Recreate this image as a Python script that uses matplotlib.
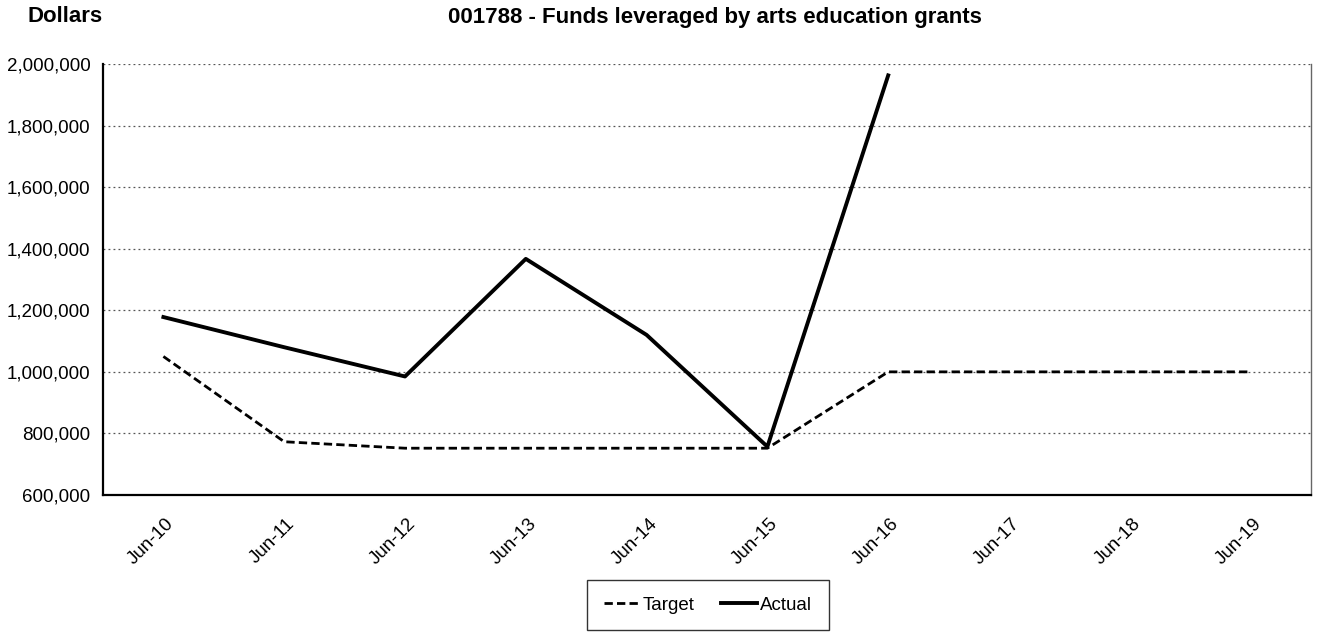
import matplotlib.pyplot as plt
from matplotlib.ticker import FuncFormatter
from matplotlib.transforms import ScaledTranslation

plt.rcParams['font.family'] = ['Liberation Sans', 'DejaVu Sans']

# data
months = ['Jun-10', 'Jun-11', 'Jun-12', 'Jun-13', 'Jun-14',
          'Jun-15', 'Jun-16', 'Jun-17', 'Jun-18', 'Jun-19']
target = [1050000, 773000, 752000, 752000, 752000,
          752000, 1000000, 1000000, 1000000, 1000000]
actual = [1178000, 1080000, 985000, 1367000, 1120000,
          757000, 1963000]

fig = plt.figure(figsize=(13.17, 6.33), dpi=100)
ax = fig.add_axes([103 / 1317, 1 - 495 / 633, 1208 / 1317, 431 / 633])

x = list(range(len(months)))
ax.plot(x, target, color='black', linestyle=(0, (3, 1.5)), linewidth=2.0, label='Target')
ax.plot(x[:len(actual)], actual, color='black', linewidth=2.8, label='Actual')

ax.set_xlim(-0.5, len(months) - 0.5)
ax.set_ylim(600000, 2000000)
ax.set_yticks(range(600000, 2000001, 200000))
ax.yaxis.set_major_formatter(FuncFormatter(lambda v, p: f'{int(v):,}'))
ax.set_xticks(x)
ax.set_xticklabels(months, rotation=45, ha='right', va='center', rotation_mode='anchor')
ax.tick_params(axis='both', length=0, labelsize=13.5)
ax.tick_params(axis='y', pad=9)
ax.tick_params(axis='x', pad=19)
shift = ScaledTranslation(8 / 100, 0, fig.dpi_scale_trans)
for lbl in ax.get_xticklabels():
    lbl.set_transform(lbl.get_transform() + shift)

ax.grid(axis='y', linestyle=(0, (1.5, 2.5)), color='#555555', linewidth=0.9)
ax.set_axisbelow(True)
for side in ['left', 'bottom']:
    ax.spines[side].set_linewidth(1.6)
ax.spines['top'].set_visible(False)
ax.spines['right'].set_color('#666666')
ax.spines['right'].set_linewidth(1.0)

fig.text(28 / 1317, 1 - 16 / 633, 'Dollars', fontsize=16, fontweight='bold', va='center')
fig.text(715 / 1317, 1 - 17 / 633, '001788 - Funds leveraged by arts education grants',
         fontsize=16, fontweight='bold', va='center', ha='center')

leg = fig.legend(loc='center', bbox_to_anchor=(708 / 1317, 1 - 605 / 633), ncol=2,
                 frameon=True, fancybox=False, edgecolor='black', fontsize=13.5,
                 handlelength=1.9, borderpad=0.9, columnspacing=1.4, handletextpad=0.2,
                 borderaxespad=0)
leg.get_frame().set_linewidth(1.0)

fig.savefig('out.png', dpi=100)
